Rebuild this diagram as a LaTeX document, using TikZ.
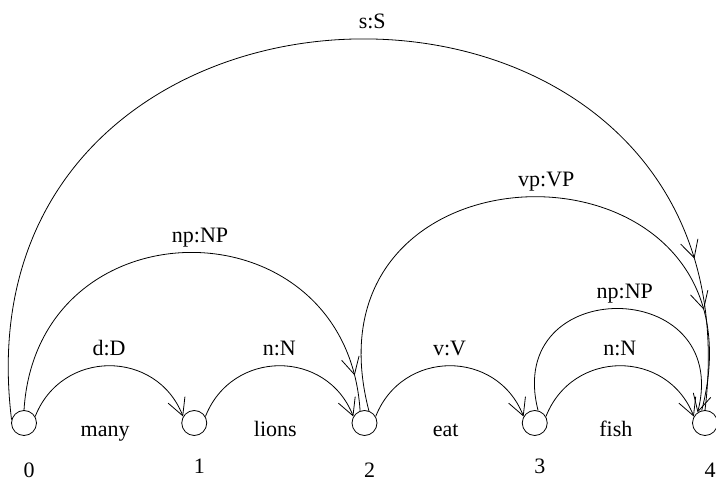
\documentclass[tikz,border=0pt]{standalone}
\usepackage{fontspec}
\setmainfont{Liberation Serif}
\usetikzlibrary{arrows.meta,decorations.markings}

\tikzset{
  barb/.tip={Straight Barb[length=17pt,width=18pt]},
  every node/.style={font=\fontsize{22}{26}\selectfont},
  state/.style={circle,draw,line width=0.8pt,minimum size=25pt,inner sep=0pt},
  edge/.style={line width=0.8pt},
  arclbl/.style={midway,above=10pt,inner sep=0pt,text depth=0pt},
  word/.style={anchor=base,yshift=-14pt,xshift=-4pt,inner sep=0pt},
  num/.style={anchor=base,inner sep=0pt},
  midarrow/.style={postaction={decorate},
    decoration={markings,mark=at position #1 with {\arrow{barb}}}}
}

\begin{document}
\begin{tikzpicture}[x=1pt,y=1pt]
        \useasboundingbox (0,0) rectangle (716,485);
        % chart vertices and their numbers
        \foreach \i/\x/\d in {0/24/55,1/194.25/51,2/364.5/55,3/534.75/51,4/705/55}{
            \node[state] (n\i) at (\x,62) {};
            \node[num] (l\i) at (\x+5,62-\d) {\i};
        }
        % words
        \path (n0) -- node[word] (many) {many} (n1);
        \path (n1) -- node[word] (lions) {lions} (n2);
        \path (n2) -- node[word] (eat) {eat} (n3);
        \path (n3) -- node[word] (fish) {fish} (n4);
        % lexical edges
        \draw[edge,-{barb}] (n0.30) to[out=68.6,in=111.4,distance=72.6pt] node[arclbl] (dD) {d:D} (n1.150);
        \draw[edge,-{barb}] (n1.30) to[out=68.6,in=111.4,distance=72.6pt] node[arclbl] (nN1) {n:N} (n2.150);
        \draw[edge,-{barb}] (n2.30) to[out=68.6,in=111.4,distance=72.6pt] node[arclbl] (vV) {v:V} (n3.150);
        \draw[edge,-{barb}] (n3.30) to[out=68.6,in=111.4,distance=72.6pt] node[arclbl] (nN2) {n:N} (n4.150);
        % phrase edges
        \draw[edge,midarrow=-36pt] (n0.90) to[out=86.4,in=93.6,distance=211.2pt] node[arclbl,xshift=8pt] (npA) {np:NP} (n2.110);
        \draw[edge,-{barb}] (n3.75) to[out=104.4,in=75.6,distance=141.6pt] node[arclbl,xshift=7pt] (npB) {np:NP} (n4.125);
        \draw[edge,midarrow=-102pt] (n2.70) to[out=104.6,in=75.4,distance=294.9pt] node[arclbl,xshift=11pt] (vpVP) {vp:VP} (n4.105);
        \draw[edge,midarrow=-153pt] (n0.165) to[out=97,in=83,distance=505pt] node[arclbl,xshift=14pt] (sS) {s:S} (n4.90);
\end{tikzpicture}
\end{document}
